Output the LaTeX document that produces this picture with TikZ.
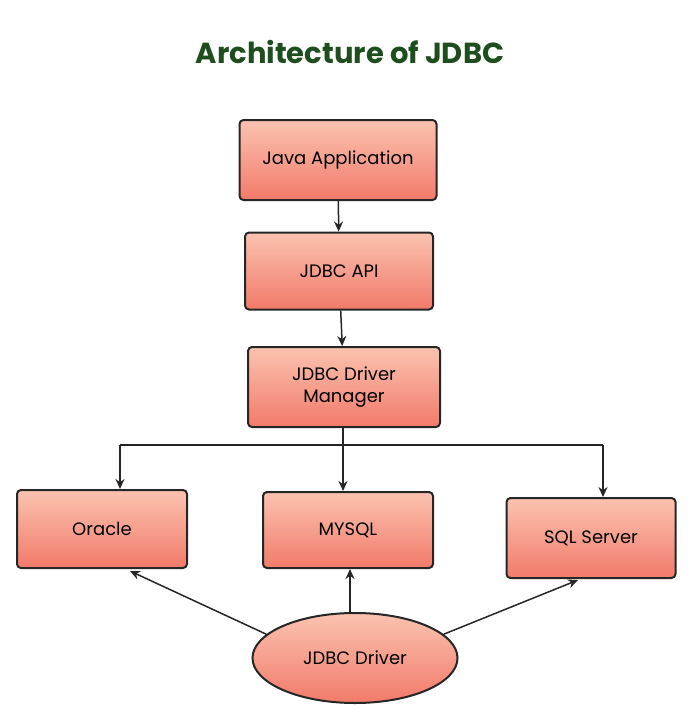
\documentclass[tikz,border=0pt]{standalone}
\usepackage{fontspec}
\setmainfont{Poppins}
\usetikzlibrary{shapes.geometric,arrows.meta}
\definecolor{topc}{HTML}{FBC3B0}
\definecolor{botc}{HTML}{F27A6A}
\begin{document}
\begin{tikzpicture}[x=1pt,y=-1pt,
 box/.style={draw=black!85,line width=2pt,rounded corners=4pt,top color=topc,bottom color=botc,font=\fontsize{18}{22}\selectfont,align=center,inner sep=0pt},
 arr/.style={-{Stealth[length=10pt,width=9pt]},line width=1.5pt,draw=black!85}]
\useasboundingbox (0,0) rectangle (700,723);
\node (title) at (350,52) {\fontsize{29}{34}\selectfont\bfseries\color[HTML]{1E4D1E}Architecture of JDBC};
\node[box,minimum width=197pt,minimum height=80pt] (java) at (338,160) {Java Application};
\node[box,minimum width=188pt,minimum height=77pt] (api) at (339,271) {JDBC API};
\node[box,minimum width=192pt,minimum height=80pt] (mgr) at (344,387) {JDBC Driver\\Manager};
\node[box,minimum width=170pt,minimum height=78pt] (ora) at (102,529) {Oracle};
\node[box,minimum width=170pt,minimum height=76pt] (my) at (348,530) {MYSQL};
\node[box,minimum width=169pt,minimum height=80pt] (sql) at (591,538) {SQL Server};
\node[box,ellipse,minimum width=205pt,minimum height=90pt] (drv) at (355,658) {JDBC Driver};
\coordinate (j) at (343,445);
\coordinate (l) at (120,445);
\coordinate (r) at (603,445);
\draw[arr] (java) -- (api);
\draw[arr] (api) -- (mgr);
\draw[line width=2pt,draw=black!85] (mgr.south -| j) -- (j);
\draw[line width=2pt,draw=black!85] (l) -- (r);
\draw[arr] (l) -- (l |- ora.north);
\draw[arr] (j) -- (j |- my.north);
\draw[arr] (r) -- (r |- sql.north);
\draw[arr] (drv.165) -- (130,571);
\draw[arr] (drv.north -| 350,0) -- (my.south -| 350,0);
\draw[arr] (drv.15) -- (578,580);
\end{tikzpicture}
\end{document}
